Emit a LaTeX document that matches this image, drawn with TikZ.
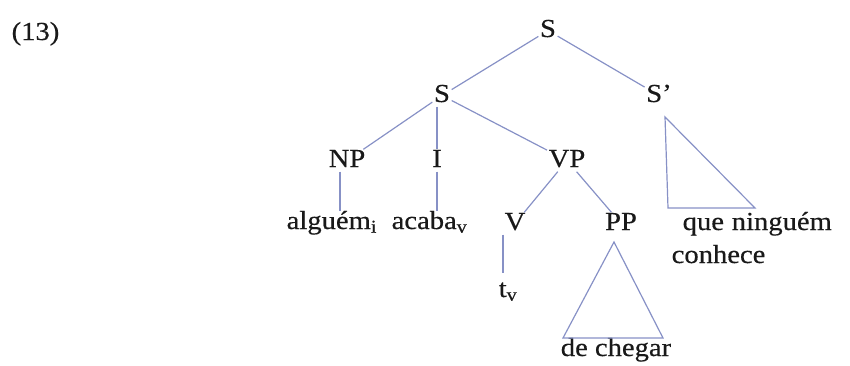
\documentclass[tikz,border=0pt]{standalone}
\usepackage{fontspec}
\setmainfont{Liberation Serif}[FakeStretch=1.1,FakeBold=0.4]
\begin{document}
\begin{tikzpicture}[x=1pt,y=-1pt,
  lbl/.style={font=\fontsize{26}{30}\selectfont, text=black!90, inner sep=1.5pt, anchor=base, text height=16pt, text depth=3pt},
  br/.style={draw=lnc, line width=1.2pt},
]
\definecolor{lnc}{RGB}{135,145,198}
\useasboundingbox (0,0) rectangle (850,365);
\node[lbl, anchor=base west] (n13) at (10,40) {(13)};
\node[lbl] (S0) at (548,37) {S};
\node[lbl] (S1) at (442,102) {S};
\node[lbl] (S2) at (659,102) {S’};
\node[lbl] (NP) at (347,167) {NP};
\node[lbl] (I) at (437,167) {I};
\node[lbl] (VP) at (567,167) {VP};
\node[lbl, anchor=base west] (alg) at (285,229) {alguém\textsubscript{i}};
\node[lbl, anchor=base west] (aca) at (390,229) {acaba\textsubscript{v}};
\node[lbl] (V) at (515,230) {V};
\node[lbl] (PP) at (621,230) {PP};
\node[lbl, anchor=base west] (que) at (681,230) {que\hspace{0.3em}ninguém};
\node[lbl, anchor=base west] (con) at (670,263) {conhece};
\node[lbl] (t) at (508,297) {t\textsubscript{v}};
\node[lbl] (dc) at (616,356) {de chegar};
\coordinate (pa) at (614,242);
\coordinate (pl) at (563,338);
\coordinate (pr) at (663,338);
\coordinate (sa) at (665,117);
\coordinate (sl) at (668,208);
\coordinate (sr) at (755,208);
\draw[br] (S0) -- (S1);
\draw[br] (S0) -- (S2);
\draw[br] (S1) -- (NP);
\draw[br] (I |- S1.south) -- (I.north);
\draw[br] (S1) -- (VP);
\draw[br] ([xshift=-7pt]NP.south) -- ([xshift=-7pt]NP.south |- alg.north);
\draw[br] (I.south) -- (I.south |- aca.north);
\draw[br] (VP) -- (V);
\draw[br] (VP) -- (PP);
\draw[br, shorten >=6pt] ([xshift=-12pt]V.south) -- ([xshift=-12pt]V.south |- t.north);
\draw[br] (pa) -- (pl) -- (pr) -- cycle;
\draw[br] (sa) -- (sl) -- (sr) -- cycle;
\end{tikzpicture}
\end{document}
